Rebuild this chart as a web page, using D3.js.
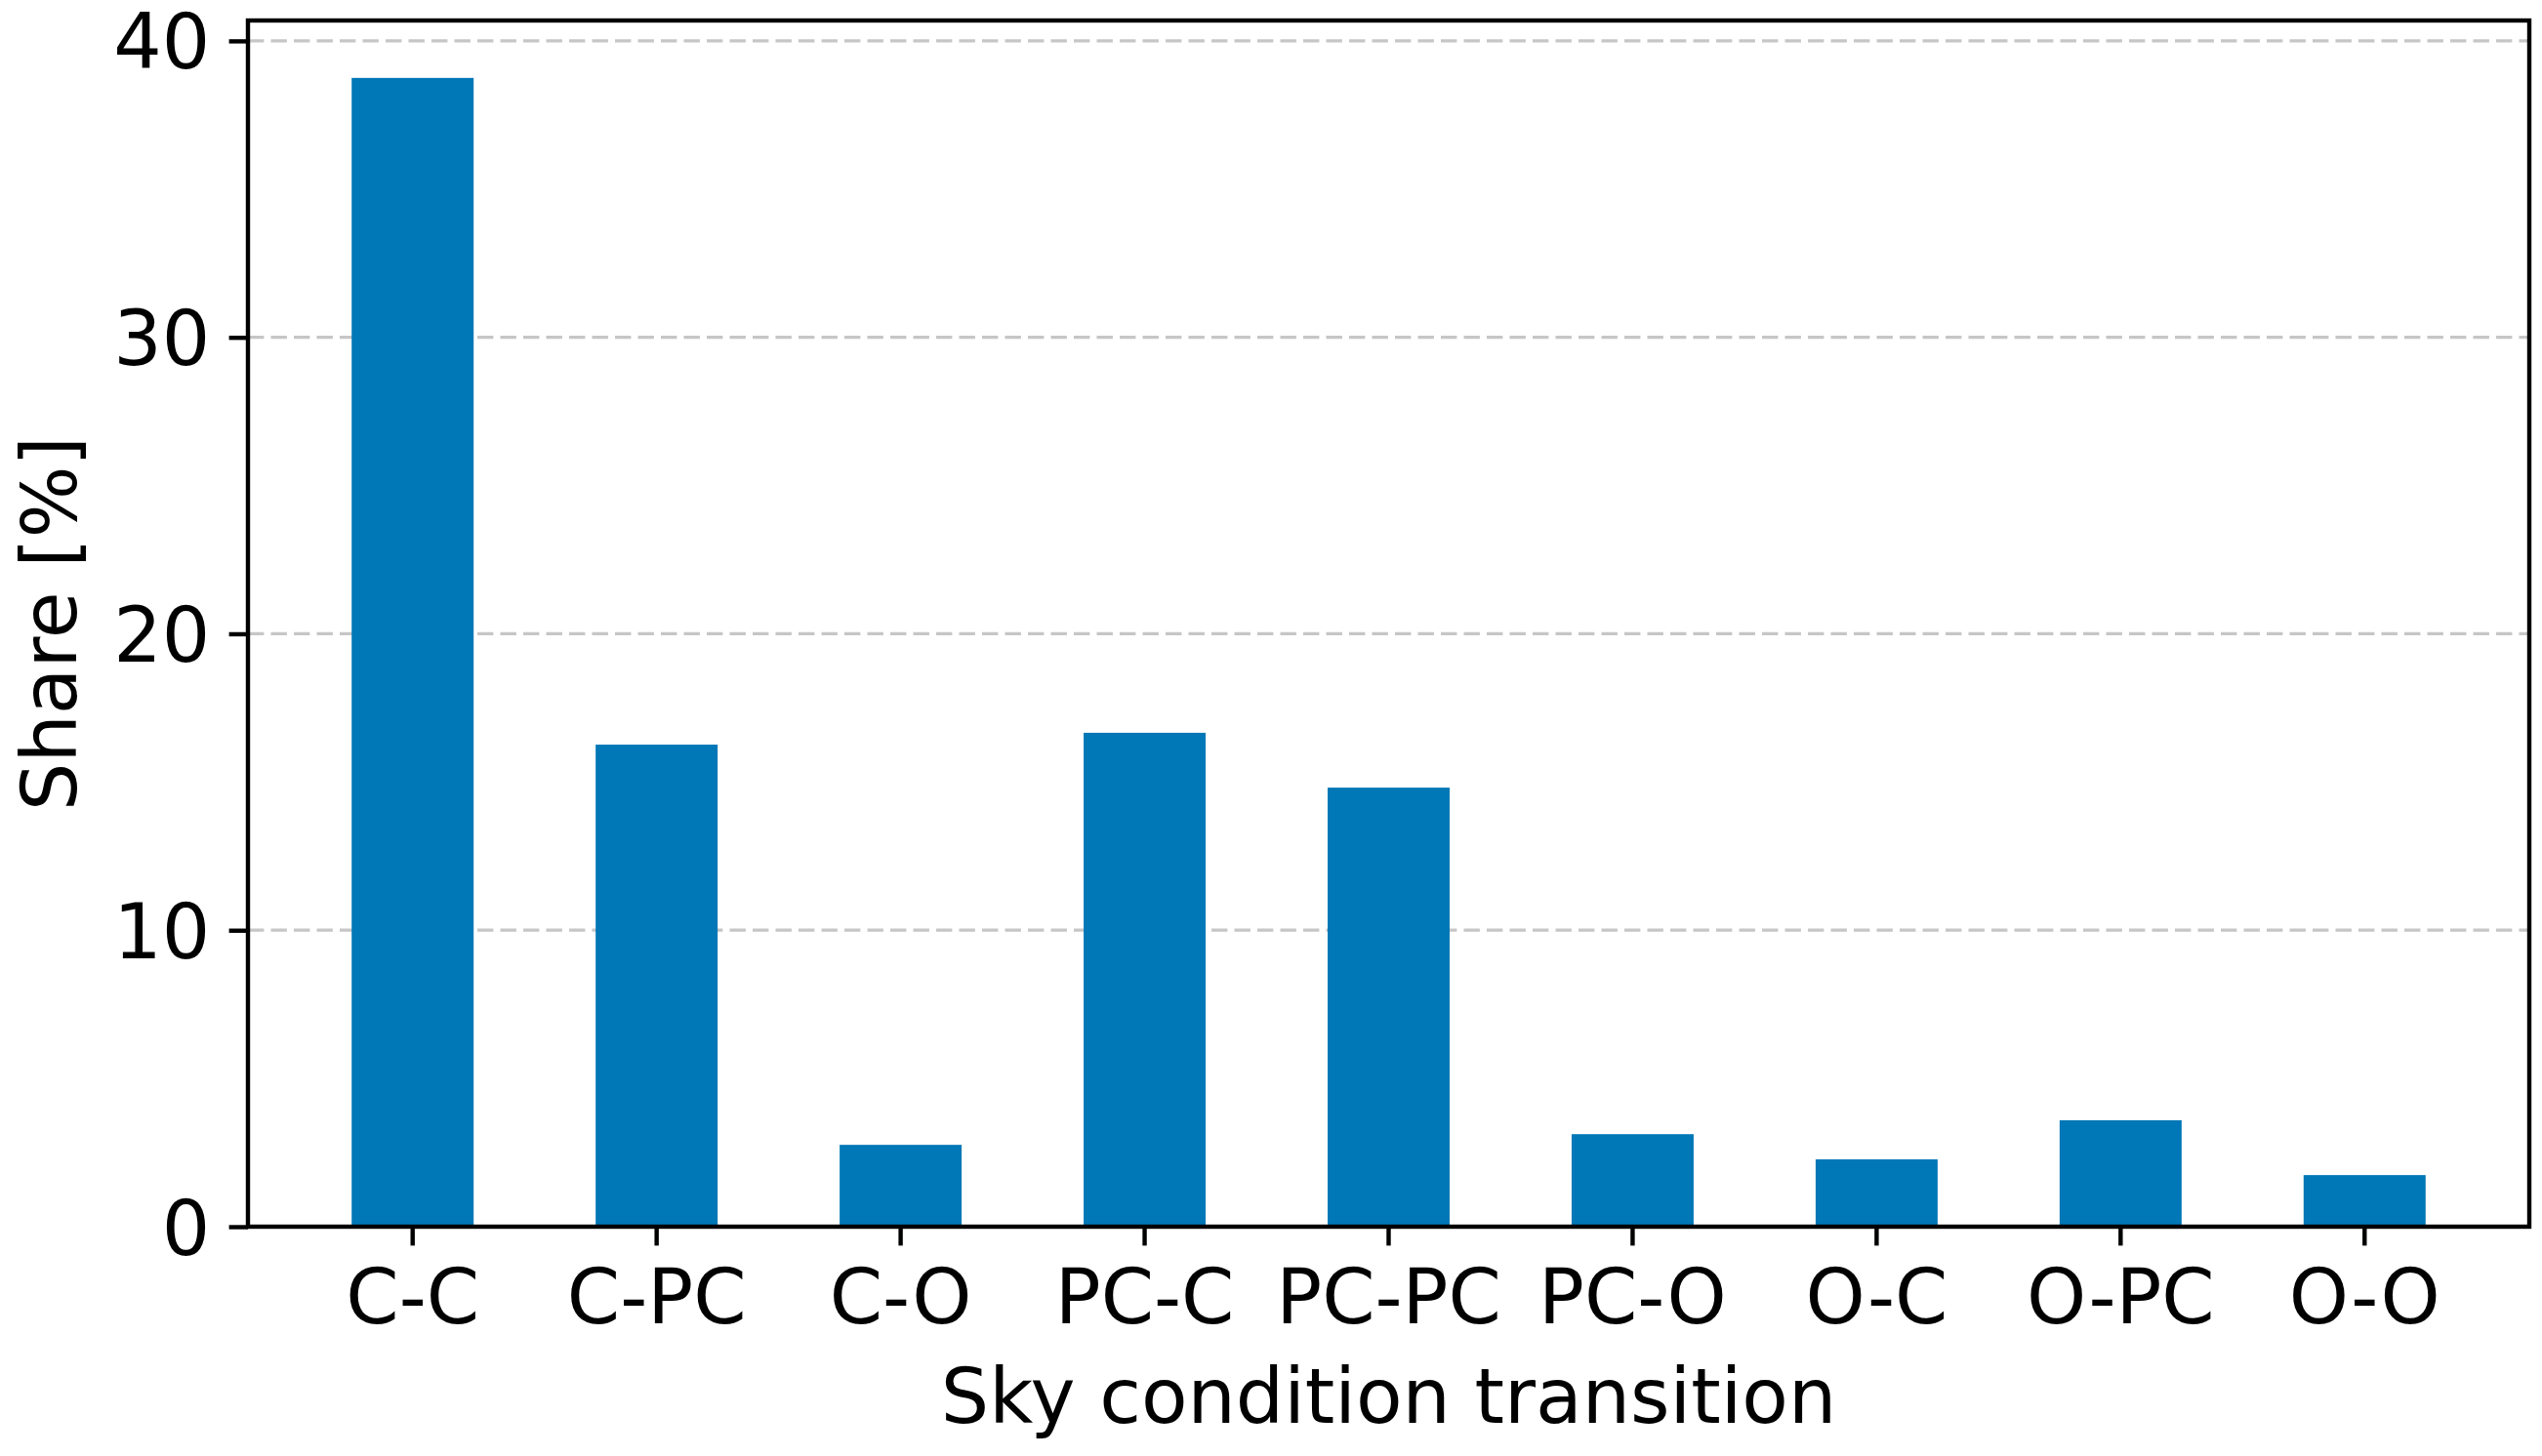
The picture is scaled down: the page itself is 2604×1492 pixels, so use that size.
<!DOCTYPE html>
<html>
<head>
<meta charset="utf-8">
<script src="https://cdn.jsdelivr.net/npm/d3@7"></script>
<style>
  html, body { margin: 0; padding: 0; background: #ffffff; }
  svg { display: block; }
  text { font-family: "DejaVu Sans", sans-serif; fill: #000; }
</style>
</head>
<body>
<script>
// ---- data ----
const categories = ["C-C", "C-PC", "C-O", "PC-C", "PC-PC", "PC-O", "O-C", "O-PC", "O-O"];
const shares = [38.75, 16.26, 2.76, 16.66, 14.81, 3.12, 2.27, 3.59, 1.74];
const yTicks = [0, 10, 20, 30, 40];
const xLabel = "Sky condition transition";
const yLabel = "Share [%]";

// ---- layout ----
const W = 2604, H = 1492;
const plotLeft = 254, plotRight = 2591, plotTop = 21, plotBottom = 1257;
const fontSize = 77.8;
const tickLen = 19.4, tickPad = 19.4;
const spineW = 4.4;
const barColor = "#0077b6";

const svg = d3.select("body").append("svg")
  .attr("width", W).attr("height", H);

const x = d3.scaleBand()
  .domain(categories)
  .range([plotLeft, plotRight])
  .paddingInner(0.5)
  .paddingOuter(0.425);

const y = d3.scaleLinear()
  .domain([0, d3.max(shares) * 1.05])
  .range([plotBottom, plotTop]);

// grid
svg.append("g").selectAll("line")
  .data(yTicks)
  .join("line")
  .attr("x1", plotLeft).attr("x2", plotRight)
  .attr("y1", d => y(d)).attr("y2", d => y(d))
  .attr("stroke", "#c6c6c6")
  .attr("stroke-width", 3.2)
  .attr("stroke-dasharray", "16.4,7.1");

// bars
svg.append("g").selectAll("rect")
  .data(categories)
  .join("rect")
  .attr("x", d => x(d))
  .attr("width", x.bandwidth())
  .attr("y", (d, i) => y(shares[i]))
  .attr("height", (d, i) => y(0) - y(shares[i]))
  .attr("fill", barColor);

// axes
const xAxis = svg.append("g")
  .attr("transform", `translate(0,${plotBottom})`)
  .call(d3.axisBottom(x).tickSize(tickLen).tickPadding(tickPad).tickSizeOuter(0));
xAxis.select(".domain").remove();
xAxis.selectAll(".tick line").attr("stroke", "#000").attr("stroke-width", spineW);
xAxis.selectAll(".tick text")
  .attr("font-family", "DejaVu Sans")
  .attr("font-size", fontSize)
  .attr("fill", "#000")
  .attr("dy", "0.78em");

const yAxis = svg.append("g")
  .attr("transform", `translate(${plotLeft},0)`)
  .call(d3.axisLeft(y).tickValues(yTicks).tickFormat(d3.format("d"))
        .tickSize(tickLen).tickPadding(tickPad).tickSizeOuter(0));
yAxis.select(".domain").remove();
yAxis.selectAll(".tick line").attr("stroke", "#000").attr("stroke-width", spineW);
yAxis.selectAll(".tick text")
  .attr("font-family", "DejaVu Sans")
  .attr("font-size", fontSize)
  .attr("fill", "#000")
  .attr("dy", "0.36em");

// spines
svg.append("rect")
  .attr("x", plotLeft).attr("y", plotTop)
  .attr("width", plotRight - plotLeft).attr("height", plotBottom - plotTop)
  .attr("fill", "none")
  .attr("stroke", "#000")
  .attr("stroke-width", spineW)
  .attr("stroke-linejoin", "miter");

// axis labels
svg.append("text")
  .attr("x", (plotLeft + plotRight) / 2)
  .attr("y", 1458)
  .attr("text-anchor", "middle")
  .attr("font-size", fontSize)
  .text(xLabel);

svg.append("text")
  .attr("transform", `translate(78,${(plotTop + plotBottom) / 2}) rotate(-90)`)
  .attr("text-anchor", "middle")
  .attr("font-size", fontSize)
  .text(yLabel);
</script>
</body>
</html>
